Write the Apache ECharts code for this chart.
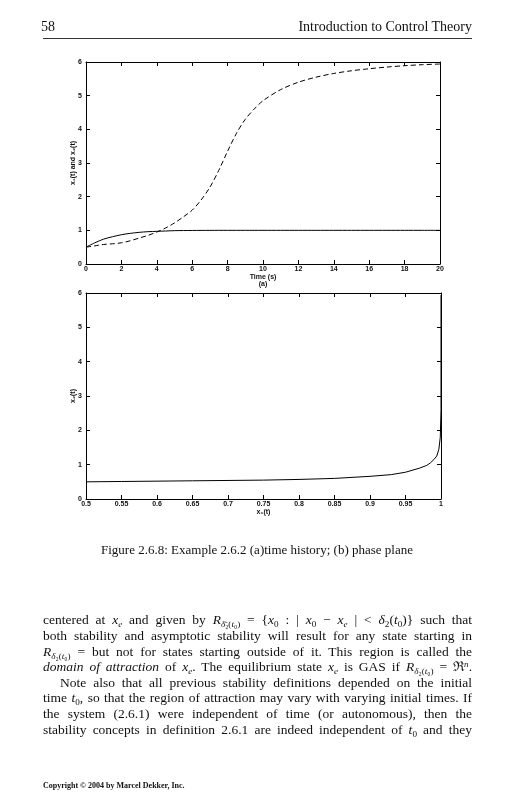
<!DOCTYPE html>
<html>
<head>
<meta charset="utf-8">
<script src="https://cdn.jsdelivr.net/npm/echarts@6/dist/echarts.min.js"></script>
<style>
  html, body { margin: 0; padding: 0; background: #fff; }
  #page { position: relative; width: 514px; height: 800px; overflow: hidden; }
  #chart { position: absolute; left: 0; top: 0; width: 514px; height: 800px; }
  .txt { position: absolute; font-family: "Liberation Serif", "DejaVu Serif", serif; color: #111; white-space: nowrap; }
  .ln { left: 43px; width: 429px; font-size: 13.5px; line-height: 16px; height: 16px;
        text-align: justify; text-align-last: justify; transform-origin: 0 50%; }
  .ln i { font-style: italic; }
  sub, sup { font-size: 0.68em; line-height: 0; }
  sub { vertical-align: -0.3em; }
  sup { vertical-align: 0.45em; }
</style>
</head>
<body>
<div id="page">
  <div id="chart"></div>
  <!-- 页眉 -->
  <div class="txt" style="left:41px; top:19px; font-size:14px;">58</div>
  <div class="txt" style="right:42px; top:19px; font-size:14px;">Introduction to Control Theory</div>
  <div style="position:absolute; left:43px; top:38px; width:429px; height:1px; background:#333;"></div>
  <!-- 图注 -->
  <div class="txt" style="left:0; width:514px; text-align:center; top:542px; font-size:13px;">Figure 2.6.8: Example 2.6.2 (a)time history; (b) phase plane</div>
  <!-- 正文 -->
  <div class="txt ln" style="top:612px;">centered at <i>x<sub>e</sub></i> and given by <i>R</i><sub><i>δ̄</i>₂(<i>t</i>₀)</sub> = {<i>x</i><sub>0</sub> : | <i>x</i><sub>0</sub> − <i>x<sub>e</sub></i> | &lt; <i>δ</i><sub>2</sub>(<i>t</i><sub>0</sub>)} such that</div>
  <div class="txt ln" style="top:628px;">both stability and asymptotic stability will result for any state starting in</div>
  <div class="txt ln" style="top:644px;"><i>R</i><sub><i>δ</i>₂(<i>t</i>₀)</sub> = but not for states starting outside of it. This region is called the</div>
  <div class="txt ln" style="top:659px;"><i>domain of attraction</i> of <i>x<sub>e</sub></i>. The equilibrium state <i>x<sub>e</sub></i> is GAS if <i>R</i><sub><i>δ</i>₂(<i>t</i>₀)</sub> = ℜ<sup><i>n</i></sup>.</div>
  <div class="txt ln" style="top:675px; left:60px; width:412px;">Note also that all previous stability definitions depended on the initial</div>
  <div class="txt ln" style="top:690px;">time <i>t</i><sub>0</sub>, so that the region of attraction may vary with varying initial times. If</div>
  <div class="txt ln" style="top:706px;">the system (2.6.1) were independent of time (or autonomous), then the</div>
  <div class="txt ln" style="top:722px;">stability concepts in definition 2.6.1 are indeed independent of <i>t</i><sub>0</sub> and they</div>
  <!-- 版权 -->
  <div class="txt" style="left:43px; top:781px; font-size:8px; font-weight:bold;">Copyright © 2004 by Marcel Dekker, Inc.</div>
</div>
<script>
// (a) 时间历程
const time = [0, 0.5, 1, 1.5, 2, 2.5, 3, 3.5, 4, 4.5, 5, 5.5, 6, 6.5, 7, 7.5, 8, 8.5, 9, 9.5, 10, 11, 12, 13, 14, 15, 16, 17, 18, 19, 20]
const x1Values = [0.5, 0.63, 0.74, 0.81, 0.87, 0.91, 0.94, 0.96, 0.97, 0.98, 0.99, 0.994, 0.996, 0.998, 0.999, 1, 1, 1, 1, 1, 1, 1, 1, 1, 1, 1, 1, 1, 1, 1, 1]
const x2Values = [0.5, 0.54, 0.58, 0.6, 0.63, 0.69, 0.77, 0.85, 0.95, 1.07, 1.22, 1.4, 1.6, 1.9, 2.28, 2.78, 3.35, 3.88, 4.3, 4.6, 4.85, 5.18, 5.4, 5.55, 5.66, 5.74, 5.8, 5.85, 5.89, 5.92, 5.94]
const timeTicks = [0, 2, 4, 6, 8, 10, 12, 14, 16, 18, 20]
// (b) 相平面
const phaseX1 = [0.5, 0.55, 0.6, 0.65, 0.7, 0.75, 0.8, 0.85, 0.9, 0.93, 0.95, 0.97, 0.98, 0.985, 0.99, 0.994, 0.997, 0.999, 1, 1]
const phaseX2 = [0.5, 0.51, 0.52, 0.53, 0.54, 0.55, 0.57, 0.6, 0.66, 0.71, 0.78, 0.9, 0.98, 1.05, 1.15, 1.25, 1.45, 1.8, 2.6, 5.94]
const phaseTicks = [0.5, 0.55, 0.6, 0.65, 0.7, 0.75, 0.8, 0.85, 0.9, 0.95, 1]
const valueTicks = [0, 1, 2, 3, 4, 5, 6]

const chart = echarts.init(document.getElementById('chart'), null, { renderer: 'canvas' })
const black = '#000'
const font = '"Liberation Sans", Arial, sans-serif'

function boxAxis(extra) {
  return Object.assign({
    type: 'value',
    axisLine: { show: true, onZero: false, lineStyle: { color: black, width: 1 } },
    axisTick: { show: true, inside: true, length: 4, lineStyle: { color: black, width: 1 } },
    axisLabel: { show: false },
    splitLine: { show: false },
  }, extra)
}
const lbl = (margin) => ({ show: true, fontSize: 7, fontWeight: 'bold', color: '#111', fontFamily: font, margin: margin })
const nameStyle = { fontSize: 7, fontWeight: 'bold', color: '#111', fontFamily: font, lineHeight: 7 }

const option = {
  animation: false,
  grid: [
    { left: 86, top: 62, width: 354, height: 202 },
    { left: 86, top: 293, width: 355, height: 206 },
  ],
  xAxis: [
    boxAxis({ gridIndex: 0, position: 'bottom', min: timeTicks[0], max: timeTicks[timeTicks.length - 1], interval: 2,
      axisLabel: lbl(2), name: 'Time (s)\n(a)', nameLocation: 'middle', nameGap: 10, nameTextStyle: nameStyle }),
    boxAxis({ gridIndex: 0, position: 'top', min: 0, max: 20, interval: 2 }),
    boxAxis({ gridIndex: 1, position: 'bottom', min: phaseTicks[0], max: phaseTicks[phaseTicks.length - 1], interval: 0.05,
      axisLabel: lbl(2), name: 'x₁(t)', nameLocation: 'middle', nameGap: 10, nameTextStyle: nameStyle }),
    boxAxis({ gridIndex: 1, position: 'top', min: 0.5, max: 1, interval: 0.05 }),
  ],
  yAxis: [
    boxAxis({ gridIndex: 0, position: 'left', min: valueTicks[0], max: valueTicks[valueTicks.length - 1], interval: 1,
      axisLabel: lbl(4), name: 'x₁(t) and x₂(t)', nameLocation: 'middle', nameGap: 9, nameRotate: 90,
      nameMoveOverlap: false, nameTextStyle: nameStyle }),
    boxAxis({ gridIndex: 0, position: 'right', min: 0, max: 6, interval: 1 }),
    boxAxis({ gridIndex: 1, position: 'left', min: 0, max: 6, interval: 1,
      axisLabel: lbl(4), name: 'x₂(t)', nameLocation: 'middle', nameGap: 9, nameRotate: 90,
      nameMoveOverlap: false, nameTextStyle: nameStyle }),
    boxAxis({ gridIndex: 1, position: 'right', min: 0, max: 6, interval: 1 }),
  ],
  series: [
    {
      type: 'line', xAxisIndex: 0, yAxisIndex: 0, symbol: 'none', smooth: 0.3,
      data: time.map((t, i) => [t, x1Values[i]]),
      lineStyle: { color: black, width: 1 },
    },
    {
      type: 'line', xAxisIndex: 0, yAxisIndex: 0, symbol: 'none', smooth: 0.3,
      data: time.map((t, i) => [t, x2Values[i]]),
      lineStyle: { color: black, width: 1, type: [5, 3] },
    },
    {
      type: 'line', xAxisIndex: 2, yAxisIndex: 2, symbol: 'none',
      data: phaseX1.map((x, i) => [x, phaseX2[i]]),
      lineStyle: { color: black, width: 1 },
    },
  ],
}
chart.setOption(option)

// 正文逐行对齐: 超宽的行横向压缩
document.querySelectorAll('.ln').forEach((el) => {
  const w = el.clientWidth
  const sw = el.scrollWidth
  if (sw > w) {
    el.style.width = sw + 'px'
    el.style.transform = 'scaleX(' + (w / sw) + ')'
  }
})
</script>
</body>
</html>
